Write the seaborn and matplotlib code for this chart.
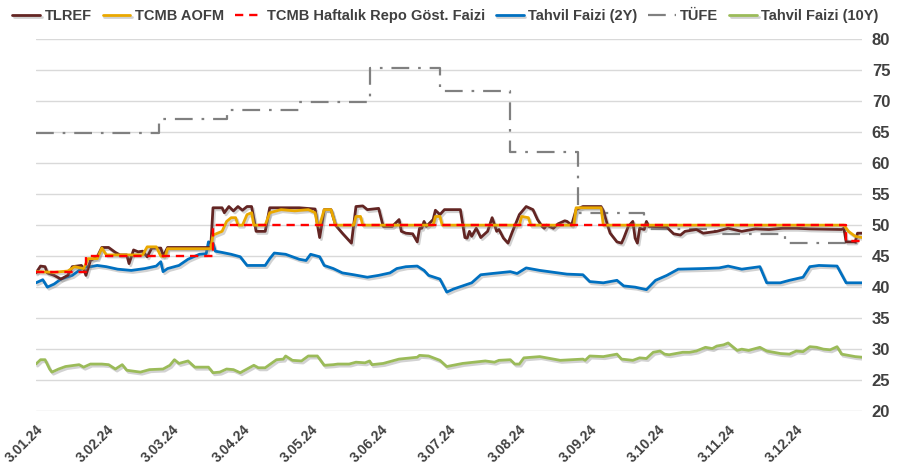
import pandas as pd
import matplotlib
matplotlib.use("Agg")
import matplotlib.pyplot as plt
import matplotlib.patheffects as pe
import seaborn as sns

START = pd.Timestamp("2024-01-03")

# days since START, values in %
tlref_day = [0, 2, 4, 5, 8, 11, 14, 16, 20, 21, 22, 24, 27, 29, 32, 35, 37, 40, 41, 43,
             45, 47, 49, 51, 55, 56, 58, 77, 78, 82, 83, 85, 87, 89, 91, 93, 95, 97, 101, 103,
             116, 123, 124, 125, 127, 130, 132, 135, 139, 140, 141, 144, 146, 151, 153, 157, 160, 161, 163, 166,
             168, 169, 170, 171, 172, 175, 176, 178, 180, 187, 189, 190, 191, 192, 194, 196, 199, 201, 203, 204,
             206, 208, 210, 213, 216, 219, 221, 223, 224, 225, 228, 230, 233, 234, 236, 238, 241, 249, 250, 252,
             253, 256, 258, 259, 261, 263, 264, 265, 266, 268, 269, 270, 278, 279, 281, 284, 286, 291, 294, 300,
             305, 311, 317, 323, 329, 335, 341, 355, 356, 357, 361, 362, 364]
tlref = [42.3, 43.4, 43.3, 42.3, 41.9, 41.3, 41.9, 43.3, 43.5, 43.0, 41.9, 44.3, 44.9, 46.4, 46.4, 45.6, 45.2, 45.2, 43.8, 46.0,
         45.7, 45.8, 44.9, 46.3, 46.3, 45.0, 46.4, 46.4, 52.8, 52.8, 52.0, 53.0, 52.3, 53.0, 52.4, 53.0, 53.0, 49.0, 49.0, 52.8,
         52.8, 52.6, 50.1, 48.0, 52.5, 52.5, 50.0, 48.7, 47.1, 50.0, 53.0, 53.1, 52.5, 52.7, 49.8, 49.8, 50.9, 49.0, 48.7, 48.6,
         47.3, 49.5, 49.5, 50.6, 49.8, 50.9, 52.4, 51.7, 52.5, 52.5, 48.0, 47.9, 49.0, 48.2, 49.5, 48.0, 49.0, 51.2, 49.0, 49.3,
         47.9, 47.1, 49.0, 51.7, 53.0, 52.5, 50.9, 49.8, 49.5, 50.0, 49.5, 50.2, 50.7, 50.6, 50.0, 52.5, 53.0, 53.0, 52.3, 49.8,
         48.7, 47.3, 47.1, 47.9, 49.8, 50.6, 47.9, 47.1, 49.5, 49.3, 50.6, 49.8, 49.7, 49.3, 48.6, 48.4, 49.0, 49.3, 48.7, 49.0,
         49.5, 49.0, 49.4, 49.3, 49.5, 49.5, 49.4, 49.3, 49.5, 47.3, 47.3, 48.7, 48.7]

aofm_day = [0, 8, 14, 17, 21, 23, 27, 29, 31, 41, 47, 49, 53, 55, 57, 58, 77, 78, 82, 84,
            86, 88, 89, 91, 93, 95, 96, 101, 103, 108, 114, 120, 123, 124, 125, 127, 130, 132, 140, 141,
            143, 144, 175, 176, 178, 179, 213, 214, 217, 218, 237, 238, 249, 250, 356, 358, 361, 364]
aofm = [42.5, 42.4, 42.6, 43.3, 43.0, 44.6, 44.6, 46.3, 45.2, 45.2, 45.2, 46.5, 46.5, 45.0, 45.0, 46.2, 46.2, 48.4, 49.0, 50.6,
        51.2, 51.2, 50.0, 50.0, 51.7, 52.0, 50.0, 50.0, 52.0, 52.5, 52.3, 52.5, 52.0, 50.0, 50.0, 52.5, 52.5, 50.0, 50.0, 51.4,
        51.4, 50.0, 50.0, 51.4, 51.4, 50.0, 50.0, 51.4, 51.2, 50.0, 50.0, 52.8, 52.8, 50.0, 50.0, 49.0, 48.2, 48.0]

repo_day = [0, 22, 78, 357, 364]
repo = [42.5, 45.0, 50.0, 47.5, 47.5]

bond2_day = [0, 3, 5, 8, 11, 16, 19, 22, 24, 27, 31, 36, 42, 48, 53, 55, 56, 58, 63, 67,
             72, 75, 76, 78, 79, 82, 86, 90, 93, 101, 103, 105, 110, 116, 119, 121, 125, 127, 131, 135,
             140, 146, 151, 156, 159, 163, 168, 171, 173, 178, 181, 184, 188, 192, 196, 201, 209, 212, 216, 222,
             228, 234, 241, 244, 250, 256, 259, 264, 269, 273, 278, 283, 294, 301, 305, 311, 319, 322, 328, 332,
             338, 341, 345, 353, 357, 364]
bond2 = [40.7, 41.2, 40.0, 40.5, 41.3, 41.9, 42.7, 43.3, 43.3, 43.5, 43.3, 42.9, 42.7, 43.0, 43.4, 44.1, 42.5, 43.0, 43.5, 44.5,
         45.3, 45.4, 47.3, 47.1, 45.8, 45.6, 45.3, 44.9, 43.5, 43.5, 44.6, 45.5, 45.3, 44.5, 44.3, 45.3, 44.9, 43.5, 43.0, 42.3,
         42.0, 41.6, 41.9, 42.3, 43.0, 43.3, 43.4, 42.7, 41.9, 41.3, 39.2, 39.7, 40.2, 40.7, 42.0, 42.2, 42.5, 42.2, 43.1, 42.7,
         42.4, 42.1, 42.0, 40.9, 40.7, 41.1, 40.2, 40.0, 39.6, 41.1, 41.9, 42.9, 43.0, 43.1, 43.4, 42.9, 43.3, 40.7, 40.7, 41.1,
         41.6, 43.3, 43.5, 43.4, 40.7, 40.7]

cpi_day = [0, 54, 84, 116, 147, 178, 209, 239, 268, 299, 330, 364]
cpi = [64.8, 67.1, 68.5, 69.8, 75.4, 71.6, 61.8, 52.0, 49.4, 48.6, 47.1, 47.1]

bond10_day = [0, 2, 4, 6, 7, 10, 13, 19, 21, 24, 29, 32, 35, 38, 40, 46, 50, 56, 59, 61,
              63, 67, 70, 76, 78, 81, 84, 87, 90, 93, 96, 98, 101, 106, 109, 110, 113, 117, 120, 124,
              127, 131, 133, 138, 141, 145, 147, 148, 153, 157, 160, 168, 169, 173, 178, 181, 188, 198, 202, 204,
              209, 211, 213, 215, 222, 231, 241, 242, 244, 250, 256, 258, 263, 266, 269, 272, 275, 277, 279, 282,
              285, 288, 291, 295, 298, 300, 303, 305, 309, 311, 314, 319, 322, 328, 332, 335, 338, 341, 344, 347,
              350, 353, 355, 358, 361, 364]
bond10 = [27.6, 28.3, 28.3, 26.8, 26.3, 26.8, 27.2, 27.5, 27.1, 27.6, 27.6, 27.5, 26.8, 27.5, 26.6, 26.3, 26.7, 26.8, 27.4, 28.3,
          27.7, 28.1, 27.1, 27.1, 26.2, 26.3, 26.8, 26.7, 26.2, 26.8, 27.4, 27.0, 27.0, 28.3, 28.4, 28.9, 28.2, 28.1, 28.9, 28.9,
          27.4, 27.5, 27.6, 27.6, 27.9, 27.8, 28.1, 27.5, 27.7, 28.1, 28.4, 28.7, 29.0, 28.9, 28.2, 27.2, 27.7, 28.1, 27.9, 28.2,
          28.3, 27.6, 27.6, 28.6, 28.8, 28.2, 28.4, 28.2, 28.9, 28.8, 29.2, 28.4, 28.2, 28.6, 28.5, 29.5, 29.7, 29.2, 29.1, 29.3,
          29.5, 29.5, 29.7, 30.3, 30.1, 30.5, 30.7, 31.0, 29.8, 30.0, 29.8, 30.3, 29.7, 29.3, 29.2, 29.7, 29.6, 30.4, 30.3, 30.0,
          29.9, 30.4, 29.2, 29.0, 28.8, 28.7]

tick_labels = ["3.01.24", "3.02.24", "3.03.24", "3.04.24", "3.05.24", "3.06.24",
               "3.07.24", "3.08.24", "3.09.24", "3.10.24", "3.11.24", "3.12.24"]


def to_frame(days, values):
    return pd.DataFrame({"date": START + pd.to_timedelta(days, unit="D"), "value": values})


sns.set_theme(style="white")
plt.rcParams["font.family"] = ["Liberation Sans", "DejaVu Sans"]
TEXT = "#404040"

fig = plt.figure(figsize=(9.02, 4.71), dpi=100)
ax = fig.add_axes([0.0399, 0.127, 0.9158, 0.79])

shadow = [pe.SimpleLineShadow(offset=(1.2, -1.5), shadow_color="#7f7f7f", alpha=0.35), pe.Normal()]
lw = 2.0

sns.lineplot(data=to_frame(bond10_day, bond10), x="date", y="value", ax=ax, color="#9BBB59",
             lw=lw, label="Tahvil Faizi (10Y)", path_effects=shadow)
sns.lineplot(data=to_frame(cpi_day, cpi), x="date", y="value", ax=ax, color="#808080",
             lw=1.6, drawstyle="steps-post", linestyle=(0, (8, 4, 1.2, 4)), label="TÜFE")
sns.lineplot(data=to_frame(bond2_day, bond2), x="date", y="value", ax=ax, color="#0070C0",
             lw=lw, label="Tahvil Faizi (2Y)", path_effects=shadow)
sns.lineplot(data=to_frame(tlref_day, tlref), x="date", y="value", ax=ax, color="#632523",
             lw=lw, label="TLREF", path_effects=shadow)
sns.lineplot(data=to_frame(aofm_day, aofm), x="date", y="value", ax=ax, color="#EAA800",
             lw=lw, label="TCMB AOFM", path_effects=shadow)
sns.lineplot(data=to_frame(repo_day, repo), x="date", y="value", ax=ax, color="#FF0000",
             lw=1.7, drawstyle="steps-post", linestyle=(0, (3.5, 2.5)), label="TCMB Haftalık Repo Göst. Faizi")

ax.set_xlim(START, START + pd.Timedelta(days=364))
ax.set_ylim(20, 80)
ax.set_yticks(range(20, 81, 5))
ax.yaxis.tick_right()
ax.grid(axis="y", color="#D9D9D9", lw=1)
ax.grid(axis="x", visible=False)
for s in ax.spines.values():
    s.set_visible(False)
ax.set_xlabel("")
ax.set_ylabel("")

ax.set_xticks(pd.to_datetime(tick_labels, format="%d.%m.%y"))
ax.set_xticklabels(tick_labels, rotation=45, ha="right", va="top", rotation_mode="anchor",
                   fontsize=10, fontweight="bold", color=TEXT)
ax.tick_params(axis="x", length=0, pad=8)
ax.tick_params(axis="y", length=0, pad=7, labelsize=12, labelcolor=TEXT)
for t in ax.get_yticklabels():
    t.set_fontweight("bold")

handles, labels = ax.get_legend_handles_labels()
order = ["TLREF", "TCMB AOFM", "TCMB Haftalık Repo Göst. Faizi", "Tahvil Faizi (2Y)", "TÜFE", "Tahvil Faizi (10Y)"]
hmap = dict(zip(labels, handles))
ax.get_legend().remove()
leg = fig.legend([hmap[k] for k in order], order, loc="upper left", bbox_to_anchor=(0.004, 1.0),
                 ncol=6, frameon=False, handlelength=1.9, handletextpad=0.3, columnspacing=0.75,
                 borderaxespad=0.2, prop={"size": 10.5, "weight": "bold"})
for t in leg.get_texts():
    t.set_color(TEXT)

fig.savefig("out.png", dpi=100)
